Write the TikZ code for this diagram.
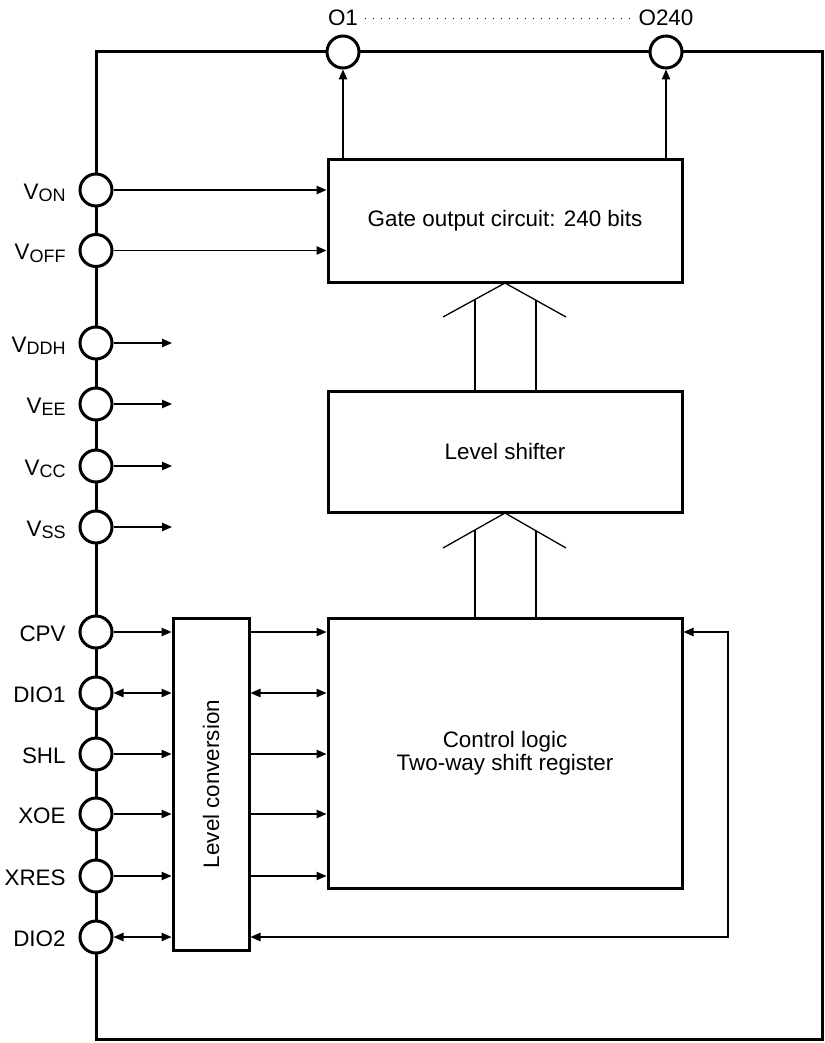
\documentclass[tikz,border=0pt]{standalone}
\usepackage{fontspec}
\setmainfont{Liberation Sans}
\usetikzlibrary{arrows.meta}
\newcommand{\sbs}[1]{\raisebox{-0.12em}{\fontsize{9}{10}\selectfont #1}}
\begin{document}
\begin{tikzpicture}[x=0.5pt,y=-0.5pt,
  sig/.style={line width=0.65pt},
  arr/.style={sig,-{Triangle[length=5pt,width=4.2pt]}},
  darr/.style={sig,{Triangle[length=5pt,width=4.2pt]}-{Triangle[length=5pt,width=4.2pt]}},
  pin/.style={circle,draw,fill=white,line width=1.5pt,minimum size=16pt,inner sep=0pt},
  blk/.style={draw,line width=1.5pt,align=center,inner sep=0pt,font=\fontsize{11.2}{11.5}\selectfont},
  lbl/.style={anchor=base east,inner sep=0pt,font=\fontsize{11.2}{13}\selectfont},
  toplbl/.style={anchor=base,font=\fontsize{11.2}{13}\selectfont},
]
\useasboundingbox (0,0) rectangle (824,1043);
% frame
\draw[line width=1.5pt] (96,52) rectangle (822,1039);
% blocks
\node[blk,minimum width=177pt,minimum height=61pt] (gate) at (505,221) {Gate output circuit: 240 bits};
\node[blk,minimum width=177pt,minimum height=60.5pt] (LS) at (505,451.5) {Level shifter};
\node[blk,minimum width=177pt,minimum height=135pt] (CL) at (505,753) {Control logic\\Two-way shift register};
\node[blk,minimum width=38pt,minimum height=166pt] (LC) at (211,784) {};
\node[rotate=90,font=\fontsize{11.2}{13}\selectfont] (LCt) at (LC.center) {Level conversion};
% pins
\foreach \n/\y in {VON/190,VOFF/250.5,VDDH/343,VEE/404,VCC/466,VSS/527,CPV/632,DIO1/693,SHL/754,XOE/814,XRES/876,DIO2/937}
  \node[pin] (p\n) at (96,\y) {};
\node[pin] (pO1) at (343,52) {};
\node[pin] (pO240) at (666,52) {};
% pin labels
\node[lbl] (lVON) at (66,199) {V\sbs{ON}};
\node[lbl] (lVOFF) at (66,259.5) {V\sbs{OFF}};
\node[lbl] (lVDDH) at (66,352) {V\sbs{DDH}};
\node[lbl] (lVEE) at (66,413) {V\sbs{EE}};
\node[lbl] (lVCC) at (66,475) {V\sbs{CC}};
\node[lbl] (lVSS) at (66,536) {V\sbs{SS}};
\node[lbl] (lCPV) at (66,641) {CPV};
\node[lbl] (lDIO1) at (66,702) {DIO1};
\node[lbl] (lSHL) at (66,763) {SHL};
\node[lbl] (lXOE) at (66,823) {XOE};
\node[lbl] (lXRES) at (66,885) {XRES};
\node[lbl] (lDIO2) at (66,946) {DIO2};
\node[toplbl] (lO1) at (343,26) {O1};
\node[toplbl] (lO240) at (666,26) {O240};
\draw[sig,dash pattern=on 0.6pt off 3.4pt] (lO1.east) -- (lO240.west);
% outputs
\draw[arr] (gate.north -| pO1) -- (pO1);
\draw[arr] (gate.north -| pO240) -- (pO240);
% supply inputs
\draw[arr] (pVON) -- (gate.west |- pVON);
\draw[arr] (pVOFF) -- (gate.west |- pVOFF);
\foreach \n/\y in {VDDH/343,VEE/404,VCC/466,VSS/527}{
  \coordinate (e\n) at (172,\y);
  \draw[arr] (p\n) -- (e\n);
}
% control inputs
\foreach \n in {CPV,SHL,XOE,XRES}{
  \draw[arr] (p\n) -- (LC.west |- p\n);
}
\draw[darr] (pDIO1) -- (LC.west |- pDIO1);
\draw[darr] (pDIO2) -- (LC.west |- pDIO2);
\foreach \n in {CPV,SHL,XOE,XRES}{
  \draw[arr] (LC.east |- p\n) -- (CL.west |- p\n);
}
\draw[darr] (LC.east |- pDIO1) -- (CL.west |- pDIO1);
% feedback DIO2
\coordinate (fb) at (728,632);
\draw[darr] (LC.east |- pDIO2) -| (fb) -- (CL.east |- fb);
% hollow arrows
\draw[sig] (443,317) -- (505,283) -- (566,317);
\draw[sig] (475,299.5) -- (475,390);
\draw[sig] (536,300) -- (536,390);
\draw[sig] (443,548) -- (505,513) -- (566,548);
\draw[sig] (475,530) -- (475,617);
\draw[sig] (536,531) -- (536,617);
\end{tikzpicture}
\end{document}
